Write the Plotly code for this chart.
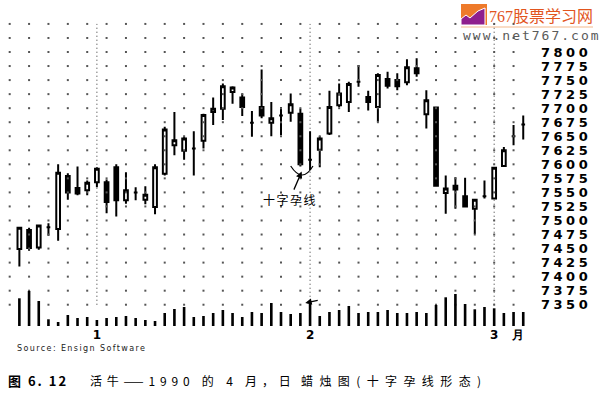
import plotly.graph_objects as go

# ---------------- data ----------------
OPEN = [7449, 7483, 7452, 7488, 7485, 7579, 7558, 7554, 7568, 7568,
        7595, 7536, 7550, 7537, 7524, 7583, 7634, 7624, 7628, 7642,
        7693, 7699, 7729, 7719, 7674, 7702, 7674, 7687, 7692, 7690,
        7608, 7626, 7655, 7705, 7711, 7747, 7720, 7702, 7752, 7750,
        7746, 7771, 7689, 7701, 7549, 7562, 7543, 7521, 7543, 7539,
        7597, 7650, 7671]
HIGH = [7488, 7487, 7493, 7495, 7600, 7584, 7596, 7571, 7595, 7573,
        7600, 7586, 7559, 7561, 7600, 7667, 7693, 7649, 7659, 7690,
        7719, 7744, 7739, 7726, 7695, 7769, 7711, 7702, 7726, 7699,
        7659, 7650, 7731, 7744, 7747, 7777, 7731, 7762, 7765, 7762,
        7787, 7789, 7732, 7701, 7580, 7577, 7576, 7538, 7571, 7595,
        7631, 7670, 7687]
LOW = [7418, 7446, 7448, 7473, 7464, 7537, 7545, 7545, 7559, 7513,
       7507, 7530, 7536, 7529, 7511, 7580, 7616, 7608, 7580, 7628,
       7670, 7679, 7708, 7686, 7649, 7682, 7650, 7652, 7676, 7596,
       7590, 7595, 7652, 7702, 7693, 7738, 7696, 7676, 7735, 7732,
       7741, 7756, 7664, 7562, 7512, 7521, 7523, 7476, 7539, 7539,
       7596, 7634, 7644]
CLOSE = [7487, 7451, 7491, 7488, 7585, 7550, 7548, 7567, 7592, 7533,
         7536, 7554, 7550, 7546, 7595, 7662, 7643, 7646, 7628, 7688,
         7699, 7739, 7737, 7702, 7674, 7687, 7682, 7687, 7707, 7600,
         7608, 7646, 7702, 7726, 7743, 7747, 7711, 7759, 7740, 7739,
         7773, 7762, 7714, 7562, 7557, 7555, 7525, 7537, 7543, 7594,
         7625, 7650, 7671]
VOLUME = [2770, 3500, 2500, 670, 400, 1100, 800, 900, 600, 800,
          900, 1000, 800, 600, 500, 1300, 1700, 1900, 900, 1000,
          1300, 1600, 1300, 900, 1400, 1300, 2300, 1400, 1200, 1300,
          2300, 1000, 1400, 1600, 2000, 1300, 1400, 1400, 1600, 1300,
          1300, 1400, 1300, 2100, 2870, 3200, 2200, 1670, 1900, 1770,
          1300, 1400, 1400]
DAY = list(range(len(OPEN)))

MONTH_TICK_IDX = [8, 30, 49]
MONTH_LABELS = ["1", "2", "3"]
PRICE_TICKS = [7350, 7375, 7400, 7425, 7450, 7475, 7500, 7525, 7550, 7575,
               7600, 7625, 7650, 7675, 7700, 7725, 7750, 7775, 7800]
GRID_ROWS = PRICE_TICKS + [7825, 7850]
HARAMI_IDX = 30          # the doji inside the long black candle
VOL_MAX = 30600

# ---------------- layout geometry ----------------
PL, PR, PT, PB = 0, 540, 20, 326
X_RANGE = [-2.0, 53.73]
Y_RANGE = [7312.1, 7857.0]


def pxx(p):
    return (p - PL) / (PR - PL)


def pxy(p):
    return (PB - p) / (PB - PT)


# grid lattice of dots (every second day, every 25 points)
grid_cols = [c for c in range(-1, len(DAY)) if c % 2 != 0]
gx, gy = [], []
for c in grid_cols:
    for r in GRID_ROWS:
        gx.append(c)
        gy.append(r)

fig = go.Figure()
fig.add_trace(go.Scatter(x=gx, y=gy, mode="markers",
                         marker=dict(size=2, color="#555555", symbol="square",
                                     line=dict(width=0)),
                         hoverinfo="skip", showlegend=False))
fig.add_trace(go.Bar(x=DAY, y=VOLUME, yaxis="y2", width=0.27,
                     marker=dict(color="black", line=dict(width=0)),
                     showlegend=False, hoverinfo="skip"))
fig.add_trace(go.Candlestick(
    x=DAY, open=OPEN, high=HIGH, low=LOW, close=CLOSE,
    increasing=dict(line=dict(color="black", width=2), fillcolor="white"),
    decreasing=dict(line=dict(color="black", width=2), fillcolor="black"),
    whiskerwidth=0, showlegend=False))

shapes = []
for i in MONTH_TICK_IDX:
    shapes.append(dict(type="line", xref="x", yref="y", x0=i, x1=i,
                       y0=GRID_ROWS[0], y1=GRID_ROWS[-1], layer="below",
                       line=dict(color="#333333", width=1, dash="1px,3px")))
# arc under the harami pair
h = HARAMI_IDX
shapes.append(dict(type="path", xref="x", yref="y",
                   path=f"M {h-2.0},7597 Q {h-0.8},7565 {h+0.3},7597",
                   line=dict(color="black", width=1.2)))
# watermark logo
shapes.append(dict(type="rect", xref="paper", yref="paper",
                   x0=pxx(461), x1=pxx(487), y0=pxy(25), y1=pxy(4),
                   fillcolor="#EE7A2A", line=dict(width=0)))
logo_pts = [(461, 25), (461, 19), (466, 15), (470, 18), (478, 11), (485, 8), (485, 25)]
shapes.append(dict(type="path", xref="paper", yref="paper",
                   path="M " + " L ".join(f"{pxx(a)},{pxy(b)}" for a, b in logo_pts) + " Z",
                   fillcolor="#8E1F8E", line=dict(color="white", width=1)))
shapes.append(dict(type="line", xref="paper", yref="paper",
                   x0=pxx(461), x1=pxx(593), y0=pxy(27), y1=pxy(27),
                   line=dict(color="#F3B98C", width=1)))

CJK = "Noto Sans CJK SC"
annotations = [
    dict(x=h - 0.87, y=7587, xref="x", yref="y", ax=-12, ay=28,
         text="<span style='letter-spacing:1.5px'>十字孕线</span>",
         font=dict(family=CJK, size=12, color="black"),
         showarrow=True, arrowhead=2, arrowsize=1, arrowwidth=1.3,
         arrowcolor="black", standoff=0),
    dict(x=h - 0.5, y=7353, xref="x", yref="y", ax=14, ay=-3, text="",
         showarrow=True, arrowhead=2, arrowsize=1, arrowwidth=1.3,
         arrowcolor="black", standoff=0),
    dict(x=pxx(15), y=pxy(348), xref="paper", yref="paper",
         xanchor="left", yanchor="middle", showarrow=False,
         text="<span style='letter-spacing:1.4px'>Source: Ensign Software</span>",
         font=dict(family="DejaVu Sans", size=8, color="#222222")),
    dict(x=pxx(6), y=pxy(380.5), xref="paper", yref="paper",
         xanchor="left", yanchor="middle", showarrow=False,
         text="<b><span style='letter-spacing:2px'>图 6. 12</span></b>",
         font=dict(family=CJK, size=13, color="black")),
    dict(x=pxx(88), y=pxy(380.5), xref="paper", yref="paper",
         xanchor="left", yanchor="middle", showarrow=False,
         text="<span style='letter-spacing:4.8px'>活牛——1990 的 4 月，日</span>",
         font=dict(family=CJK, size=12, color="black")),
    dict(x=pxx(299), y=pxy(380.5), xref="paper", yref="paper",
         xanchor="left", yanchor="middle", showarrow=False,
         text="<span style='letter-spacing:6.4px'>蜡烛图(十字孕线形态)</span>",
         font=dict(family=CJK, size=12, color="black")),
    dict(x=pxx(487), y=pxy(15), xref="paper", yref="paper",
         xanchor="left", yanchor="middle", showarrow=False,
         text="<span style='font-family:Liberation Serif'>767</span>股票学习网",
         font=dict(family=CJK, size=16, color="#E2551E")),
    dict(x=pxx(461), y=pxy(35.5), xref="paper", yref="paper",
         xanchor="left", yanchor="middle", showarrow=False,
         text="<span style='letter-spacing:2px'>www.net767.com</span>",
         font=dict(family="DejaVu Sans Mono", size=13, color="#5a5a5a")),
]

fig.update_layout(
    width=600, height=395,
    margin=dict(l=PL, r=600 - PR, t=PT, b=395 - PB, pad=0),
    paper_bgcolor="white", plot_bgcolor="white",
    showlegend=False, hovermode=False, boxgap=0.45,
    xaxis=dict(range=X_RANGE, showgrid=False, zeroline=False, showline=False,
               ticks="", tickvals=MONTH_TICK_IDX + [51.45],
               ticktext=MONTH_LABELS + ["月"],
               tickfont=dict(family="DejaVu Sans", size=12, color="black", weight="bold"),
               rangeslider=dict(visible=False)),
    yaxis=dict(range=Y_RANGE, side="right", showgrid=False, zeroline=False,
               showline=False, ticks="", tickvals=PRICE_TICKS,
               ticktext=[f"<span style='letter-spacing:3.5px'>{v}</span>" for v in PRICE_TICKS],
               tickfont=dict(family="DejaVu Sans", size=13, color="black", weight="bold")),
    yaxis2=dict(range=[0, VOL_MAX], overlaying="y", visible=False, fixedrange=True),
    shapes=shapes, annotations=annotations,
)

fig.write_html("out.html", config={"displayModeBar": False},
               post_script="document.body.style.margin='0';document.body.style.overflow='hidden';")
